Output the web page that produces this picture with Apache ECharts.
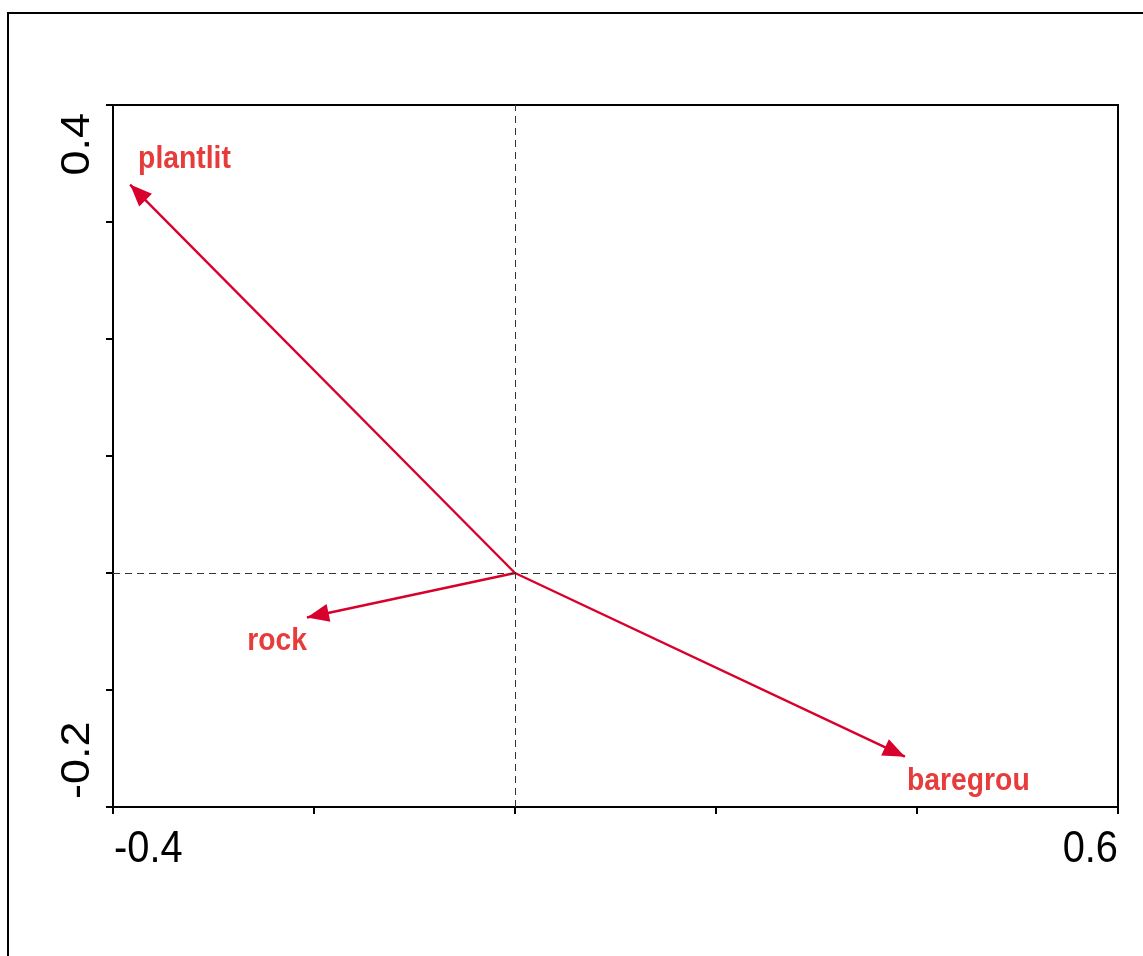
<!DOCTYPE html>
<html>
<head>
<meta charset="utf-8">
<script src="https://cdn.jsdelivr.net/npm/echarts@6/dist/echarts.min.js"></script>
<style>
  html, body { margin: 0; padding: 0; background: #fff; }
  #chart { width: 1143px; height: 956px; }
</style>
</head>
<body>
<div id="chart"></div>
<script>
// Environmental variable loadings (biplot arrows from the origin)
const varNames = ['plantlit', 'rock', 'baregrou'];
const axis1 = [-0.383, -0.207, 0.388];
const axis2 = [0.332, -0.038, -0.157];

// Axis ranges and the tick values that carry a printed label
const xRange = [-0.4, 0.6];
const yRange = [-0.2, 0.4];
const xTickLabels = [-0.4, 0.6];
const yTickLabels = [-0.2, 0.4];

// Where each variable name sits relative to its arrow tip (pixels)
const labelPlacement = {
  plantlit: { dx: 8, dy: -25, align: 'left' },
  rock: { dx: 0, dy: 24, align: 'right' },
  baregrou: { dx: 2, dy: 24, align: 'left' }
};

const ARROW = '#d8002c';
const LABEL = '#e63c3c';
const FONT = '"Liberation Sans", Arial, sans-serif';
// Filled arrow head whose tip lies at the centre of its (square) box
const HEAD = 'path://M-22,-22 L-22,-22 M22,22 L22,22 M0,0 L9,22 L-9,22 Z';

const chart = echarts.init(document.getElementById('chart'), null, { renderer: 'canvas' });

const option = {
  animation: false,
  backgroundColor: '#fff',
  grid: {
    left: 113, right: 25, top: 105, bottom: 149,
    show: true, borderColor: '#000', borderWidth: 2, backgroundColor: 'transparent'
  },
  xAxis: {
    type: 'value', min: xRange[0], max: xRange[1], interval: 0.2,
    axisLine: { show: true, onZero: false, lineStyle: { color: '#000', width: 2 } },
    axisTick: { show: true, inside: false, length: 7, lineStyle: { color: '#000', width: 2 } },
    axisLabel: { show: false },
    splitLine: { show: false }
  },
  yAxis: {
    type: 'value', min: yRange[0], max: yRange[1], interval: 0.1,
    axisLine: { show: true, onZero: false, lineStyle: { color: '#000', width: 2 } },
    axisTick: { show: true, inside: false, length: 7, lineStyle: { color: '#000', width: 2 } },
    axisLabel: { show: false },
    splitLine: { show: false }
  },
  series: [
    {
      type: 'scatter',
      silent: true,
      symbolSize: 0,
      data: varNames.map((n, i) => [axis1[i], axis2[i]]),
      markLine: {
        silent: true,
        symbol: 'none',
        label: { show: false },
        lineStyle: { color: '#333', width: 1, type: [7, 5] },
        data: [{ xAxis: 0 }, { yAxis: 0 }]
      }
    },
    {
      type: 'lines',
      coordinateSystem: 'cartesian2d',
      silent: true,
      symbol: ['none', HEAD],
      symbolSize: 44,
      lineStyle: { color: ARROW, width: 2.4, opacity: 1 },
      itemStyle: { color: ARROW },
      data: varNames.map((n, i) => ({ name: n, coords: [[0, 0], [axis1[i], axis2[i]]] }))
    }
  ]
};

chart.setOption(option);

// Text placed with the chart's own coordinate conversion
const toPx = (x, y) => chart.convertToPixel({ gridIndex: 0 }, [x, y]);
const graphics = [];

// Outer frame around the figure
graphics.push({
  type: 'rect', silent: true, z: 0,
  shape: { x: 8, y: 13, width: 1200, height: 1000 },
  style: { fill: 'none', stroke: '#000', lineWidth: 2 }
});

// X tick labels (end ticks only)
xTickLabels.forEach((v, k) => {
  const p = toPx(v, yRange[0]);
  graphics.push({
    type: 'text', silent: true, z: 10,
    x: p[0] + (k === 0 ? 1 : 0), y: p[1] + 43, scaleX: 0.885,
    style: {
      text: v.toFixed(1), font: '45px ' + FONT, fill: '#000',
      align: k === 0 ? 'left' : 'right', verticalAlign: 'middle'
    }
  });
});

// Y tick labels, rotated (end ticks only)
yTickLabels.forEach((v, k) => {
  const p = toPx(xRange[0], v);
  graphics.push({
    type: 'text', silent: true, z: 10,
    x: p[0] - 35, y: k === 0 ? p[1] - 8 : p[1] + 8, rotation: Math.PI / 2, scaleY: 0.885,
    style: {
      text: v.toFixed(1), font: '45px ' + FONT, fill: '#000',
      align: k === 0 ? 'left' : 'right', verticalAlign: 'middle'
    }
  });
});

// Variable names next to their arrow tips
varNames.forEach((n, i) => {
  const p = toPx(axis1[i], axis2[i]);
  const lp = labelPlacement[n];
  graphics.push({
    type: 'text', silent: true, z: 10,
    x: p[0] + lp.dx, y: p[1] + lp.dy, scaleX: 0.885,
    style: {
      text: n, font: 'bold 32px ' + FONT, fill: LABEL,
      align: lp.align, verticalAlign: 'middle'
    }
  });
});

chart.setOption({ graphic: graphics });
</script>
</body>
</html>
